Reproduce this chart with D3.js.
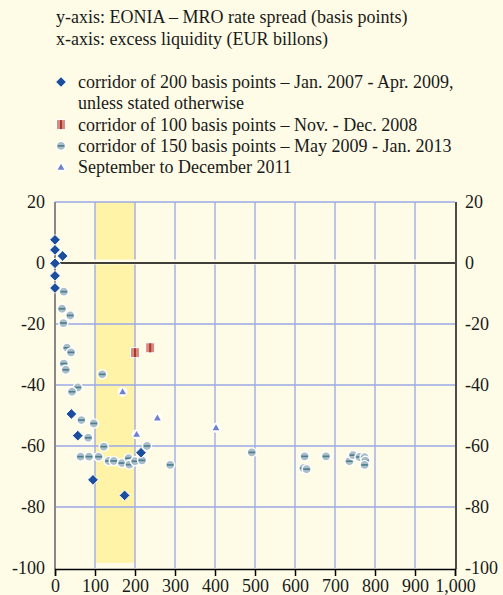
<!DOCTYPE html>
<html>
<head>
<meta charset="utf-8">
<script src="https://cdnjs.cloudflare.com/ajax/libs/d3/7.8.5/d3.min.js"></script>
<style>
  body { margin: 0; background: #fefce6; }
  svg { display: block; }
  svg text { font-family: "Liberation Serif", "Times New Roman", serif !important; fill: #1a1a1a; }
</style>
</head>
<body>
<div id="chart"></div>
<script>
// corridor of 200 bp (Jan 2007 - Apr 2009)
var corridor200 = [
  [0, 7.6], [0, 4.3], [19, 2.3], [0, -0.1], [0, -4.2], [0, -8.2],
  [41, -49.5], [57, -56.6], [95, -71.1], [174, -76.2], [215, -62.2]
];
// corridor of 100 bp (Nov - Dec 2008)
var corridor100 = [[200, -29.4], [238, -27.8]];
// corridor of 150 bp (May 2009 - Jan 2013)
var corridor150 = [
  [22, -9.4], [17.5, -15], [38, -17.2], [21, -19.7], [30, -27.8], [40, -29.3],
  [22, -33], [27, -35], [118, -36.5], [57, -40.8], [42.5, -42.2],
  [66, -51.5], [97, -52.6], [83, -57.3], [122, -60.2], [64, -63.5], [85, -63.5],
  [109, -63.5], [134, -64.9], [147, -64.9], [167.5, -65.6], [184, -64], [186, -66.1],
  [200, -65], [217.5, -64.7], [230, -60], [288, -66.2],
  [492, -62.1], [624, -63.4], [621, -67.3], [629, -67.6], [677.5, -63.4],
  [736, -65], [745, -63], [761, -63.6], [774, -63.7], [776, -64.8], [774, -66.2]
];
// September to December 2011
var sepDec2011 = [[169, -42.2], [256, -50.8], [204, -56.2], [402.5, -54]];

var xTicks = [0, 100, 200, 300, 400, 500, 600, 700, 800, 900, 1000];
var yTicks = [20, 0, -20, -40, -60, -80, -100];
var band = [100, 200];

var titleLines = [
  "y-axis: EONIA \u2013 MRO rate spread (basis points)",
  "x-axis: excess liquidity (EUR billons)"
];
var legendItems = [
  { type: "diamond", lines: ["corridor of 200 basis points \u2013 Jan. 2007 - Apr. 2009,", "unless stated otherwise"] },
  { type: "square", lines: ["corridor of 100 basis points \u2013 Nov. - Dec. 2008"] },
  { type: "circle", lines: ["corridor of 150 basis points \u2013 May 2009 - Jan. 2013"] },
  { type: "triangle", lines: ["September to December 2011"] }
];

var W = 503, H = 595;
var bg = "#fefce6", gridC = "#9aa8e6";
var FONT = "Liberation Serif, Times New Roman, serif";

var svg = d3.select("#chart").append("svg").attr("width", W).attr("height", H);
svg.append("rect").attr("width", W).attr("height", H).attr("fill", bg);

var x = d3.scaleLinear().domain([0, 1000]).range([55, 455]);
var y = d3.scaleLinear().domain([-100, 20]).range([568, 202]);

// marker drawing
function drawMarker(g, type, cx, cy) {
  var m = g.append("g").attr("transform", "translate(" + cx + "," + cy + ")");
  if (type == "diamond") {
    m.append("rect").attr("x", -3.8).attr("y", -3.8).attr("width", 7.6).attr("height", 7.6)
      .attr("transform", "rotate(45)")
      .attr("fill", "#1b4f9e").attr("stroke", "#fff").attr("stroke-width", 0.9);
  } else if (type == "circle") {
    m.append("circle").attr("r", 4.6).attr("fill", "#a9bec9")
      .attr("stroke", "#fff").attr("stroke-width", 1.3);
    m.append("line").attr("x1", -3.3).attr("x2", 3.3)
      .attr("stroke", "#4f7f8c").attr("stroke-width", 1.7);
  } else if (type == "square") {
    m.append("rect").attr("x", -4.5).attr("y", -5).attr("width", 9).attr("height", 10)
      .attr("fill", "#d98a7e").attr("stroke", "#fff").attr("stroke-width", 1);
    m.append("rect").attr("x", -1).attr("y", -4.5).attr("width", 2).attr("height", 9)
      .attr("fill", "#a8392e");
  } else {
    m.append("circle").attr("r", 5).attr("fill", "#fff");
    m.append("path").attr("d", d3.symbol(d3.symbolTriangle, 20)()).attr("transform", "translate(0,0.5)")
      .attr("fill", "#6f80cc");
  }
}

function hyphen(d) { return String(d).replace("\u2212", "-"); }

// title + legend
svg.selectAll(".title").data(titleLines).enter().append("text")
  .attr("x", 56).attr("y", function(d, i) { return 23 + i * 21.5; })
  .attr("font-size", 18).attr("font-family", FONT).text(function(d) { return d; });

var ly = 88;
legendItems.forEach(function(it) {
  drawMarker(svg, it.type, 61, ly - 6);
  it.lines.forEach(function(l, j) {
    svg.append("text").attr("x", 78).attr("y", ly + j * 21.3)
      .attr("font-size", 18).attr("font-family", FONT).text(l);
  });
  ly += it.lines.length * 21.3;
});

// band
svg.append("rect")
  .attr("x", x(band[0])).attr("width", x(band[1]) - x(band[0]))
  .attr("y", y(20)).attr("height", y(-98.3) - y(20))
  .attr("fill", "#fff3a8");

// grid
svg.selectAll(".vg").data(xTicks.slice(1, -1)).enter().append("line")
  .attr("x1", function(d) { return x(d); }).attr("x2", function(d) { return x(d); })
  .attr("y1", y(20)).attr("y2", y(-100))
  .attr("stroke", gridC).attr("stroke-width", 1.3);
svg.selectAll(".hg").data([20, -20, -40, -60, -80]).enter().append("line")
  .attr("x1", x(0)).attr("x2", x(1000))
  .attr("y1", function(d) { return y(d); }).attr("y2", function(d) { return y(d); })
  .attr("stroke", gridC).attr("stroke-width", 1.3);

// zero line with halo
svg.append("line").attr("x1", x(0) + 5).attr("x2", x(1000))
  .attr("y1", y(0) - 1).attr("y2", y(0) - 1).attr("stroke", bg).attr("stroke-width", 5);
svg.append("line").attr("x1", x(0) + 5).attr("x2", x(1000))
  .attr("y1", y(0)).attr("y2", y(0)).attr("stroke", "#000").attr("stroke-width", 1.4);

// axes lines
svg.append("line").attr("x1", x(0)).attr("x2", x(0)).attr("y1", y(20)).attr("y2", y(-100) + 1)
  .attr("stroke", "#888").attr("stroke-width", 2);
svg.append("line").attr("x1", x(1000) + 1).attr("x2", x(1000) + 1).attr("y1", y(20)).attr("y2", y(-100) + 1)
  .attr("stroke", "#000").attr("stroke-width", 1.4);

var xAxis = svg.append("g").attr("transform", "translate(0," + (y(-100) + 1) + ")")
  .call(d3.axisBottom(x).tickValues(xTicks).tickSize(7).tickPadding(3)
    .tickFormat(d3.format(",")));
xAxis.attr("font-family", FONT);
xAxis.select(".domain").attr("stroke", "#000").attr("stroke-width", 1.4);
xAxis.selectAll(".tick line").attr("stroke", "#000").attr("stroke-width", 1.5);
xAxis.selectAll("text").attr("font-size", 18).attr("fill", "#1a1a1a");

var yLeft = svg.append("g").attr("transform", "translate(" + x(0) + ",0)")
  .call(d3.axisLeft(y).tickValues(yTicks).tickSize(0).tickPadding(10).tickFormat(hyphen));
yLeft.attr("font-family", FONT);
yLeft.select(".domain").remove();
yLeft.selectAll("text").attr("font-size", 18).attr("fill", "#1a1a1a");

var yRight = svg.append("g").attr("transform", "translate(" + (x(1000) + 1) + ",0)")
  .call(d3.axisRight(y).tickValues(yTicks).tickSize(0).tickPadding(9).tickFormat(hyphen));
yRight.attr("font-family", FONT);
yRight.select(".domain").remove();
yRight.selectAll("text").attr("font-size", 18).attr("fill", "#1a1a1a");

// points
var pts = svg.append("g");
corridor150.forEach(function(d) { drawMarker(pts, "circle", x(d[0]), y(d[1])); });
corridor100.forEach(function(d) { drawMarker(pts, "square", x(d[0]), y(d[1])); });
sepDec2011.forEach(function(d) { drawMarker(pts, "triangle", x(d[0]), y(d[1])); });
corridor200.forEach(function(d) { drawMarker(pts, "diamond", x(d[0]), y(d[1])); });
</script>
</body>
</html>
